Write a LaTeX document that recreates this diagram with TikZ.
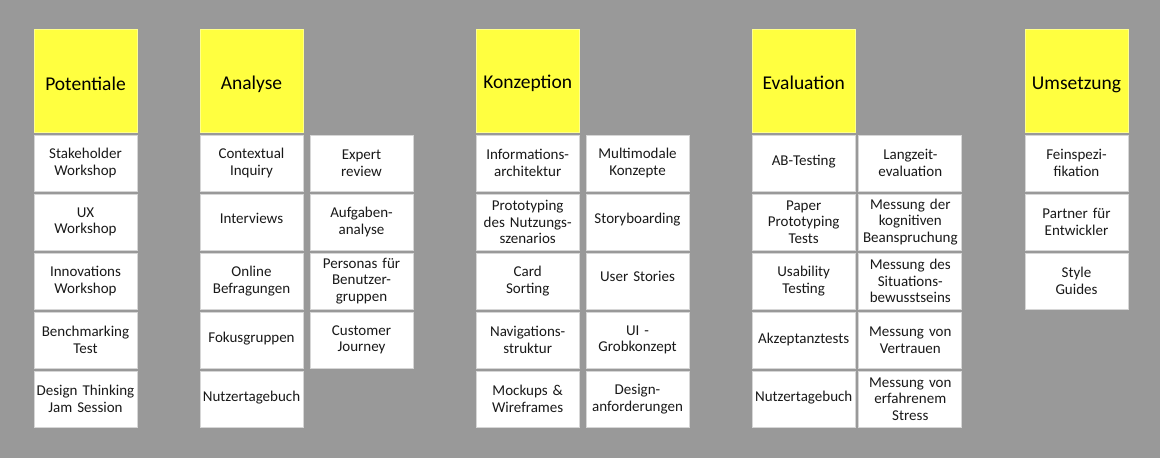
\documentclass[tikz,border=0pt]{standalone}
\usepackage{fontspec}
\setmainfont{Carlito}
\definecolor{bggray}{RGB}{153,153,153}
\definecolor{noteyellow}{RGB}{255,255,64}
\definecolor{noteyellowedge}{RGB}{255,255,140}
\definecolor{cardedge}{RGB}{214,214,214}
\definecolor{cardtext}{RGB}{25,25,25}
\newcommand{\mvtxt}[2]{\raisebox{#1}[\height][\depth]{#2}}
\tikzset{
  header/.style={rectangle, draw=noteyellowedge, fill=noteyellow, line width=1pt,
    minimum width=103pt, minimum height=103pt, anchor=north west, inner sep=0pt,
    align=center, text=black, font=\fontsize{19.5}{22}\selectfont},
  card/.style={rectangle, draw=cardedge, fill=white, line width=1pt,
    minimum width=103pt, minimum height=56pt, anchor=north west, inner sep=0pt,
    text width=102pt, align=center, text=cardtext, font=\fontsize{15}{16.5}\selectfont},
}
\begin{document}
\begin{tikzpicture}[x=1pt,y=-1pt]
\fill[bggray] (0,0) rectangle (1160,458);
\useasboundingbox (0,0) rectangle (1160,458);
% row tops
\def\ra{134.5}\def\rb{193.5}\def\rc{252.5}\def\rd{311.5}\def\re{370.5}
% Potentiale
\node[header] (hp) at (33.5,28.5) {\mvtxt{-3pt}{Potentiale}};
\node[card] (p1) at (33.5,\ra) {Stakeholder\\Workshop};
\node[card] (p2) at (33.5,\rb) {UX\\Workshop};
\node[card] (p3) at (33.5,\rc) {Innovations\\Workshop};
\node[card] (p4) at (33.5,\rd) {Benchmarking\\Test};
\node[card] (p5) at (33.5,\re) {Design Thinking\\Jam Session};
% Analyse
\node[header] (ha) at (199.5,28.5) {\mvtxt{-4pt}{Analyse}};
\node[card] (a1) at (199.5,\ra) {Contextual\\Inquiry};
\node[card] (a2) at (199.5,\rb) {\mvtxt{4pt}{Interviews}};
\node[card] (a3) at (199.5,\rc) {Online\\Befragungen};
\node[card] (a4) at (199.5,\rd) {\mvtxt{1pt}{Fokusgruppen}};
\node[card] (a5) at (199.5,\re) {\mvtxt{1pt}{Nutzertagebuch}};
\node[card] (b1) at (309.5,\ra) {Expert\\review};
\node[card] (b2) at (309.5,\rb) {Aufgaben-\\analyse};
\node[card] (b3) at (309.5,\rc) {Personas für\\Benutzer-\\gruppen};
\node[card] (b4) at (309.5,\rd) {Customer\\Journey};
% Konzeption
\node[header] (hk) at (475.7,28.5) {\mvtxt{-3pt}{Konzeption}};
\node[card] (k1) at (475.7,\ra) {Informations-\\architektur};
\node[card] (k2) at (475.7,\rb) {Prototyping\\des Nutzungs-\\szenarios};
\node[card] (k3) at (475.7,\rc) {Card\\Sorting};
\node[card] (k4) at (475.7,\rd) {Navigations-\\struktur};
\node[card] (k5) at (475.7,\re) {Mockups \&\\Wireframes};
\node[card] (l1) at (585.5,\ra) {Multimodale\\Konzepte};
\node[card] (l2) at (585.5,\rb) {\mvtxt{2pt}{Storyboarding}};
\node[card] (l3) at (585.5,\rc) {\mvtxt{5pt}{User Stories}};
\node[card] (l4) at (585.5,\rd) {UI -\\Grobkonzept};
\node[card] (l5) at (585.5,\re) {Design-\\anforderungen};
% Evaluation
\node[header] (he) at (751.7,28.5) {\mvtxt{-2pt}{Evaluation}};
\node[card] (e1) at (751.7,\ra) {\mvtxt{1pt}{AB-Testing}};
\node[card] (e2) at (751.7,\rb) {Paper\\Prototyping\\Tests};
\node[card] (e3) at (751.7,\rc) {Usability\\Testing};
\node[card] (e4) at (751.7,\rd) {\mvtxt{1pt}{Akzeptanztests}};
\node[card] (e5) at (751.7,\re) {\mvtxt{1pt}{Nutzertagebuch}};
\node[card] (f1) at (858.3,\ra) {Langzeit-\\evaluation};
\node[card] (f2) at (858.3,\rb) {Messung der\\kognitiven\\Beanspruchung};
\node[card] (f3) at (858.3,\rc) {Messung des\\Situations-\\bewusstseins};
\node[card] (f4) at (858.3,\rd) {Messung von\\Vertrauen};
\node[card] (f5) at (858.3,\re) {Messung von\\erfahrenem\\Stress};
% Umsetzung
\node[header] (hu) at (1024.5,28.5) {\mvtxt{-4pt}{Umsetzung}};
\node[card] (u1) at (1024.5,\ra) {Feinspezi-\\fikation};
\node[card] (u2) at (1024.5,\rb) {Partner für\\Entwickler};
\node[card] (u3) at (1024.5,\rc) {Style\\Guides};
\end{tikzpicture}
\end{document}
